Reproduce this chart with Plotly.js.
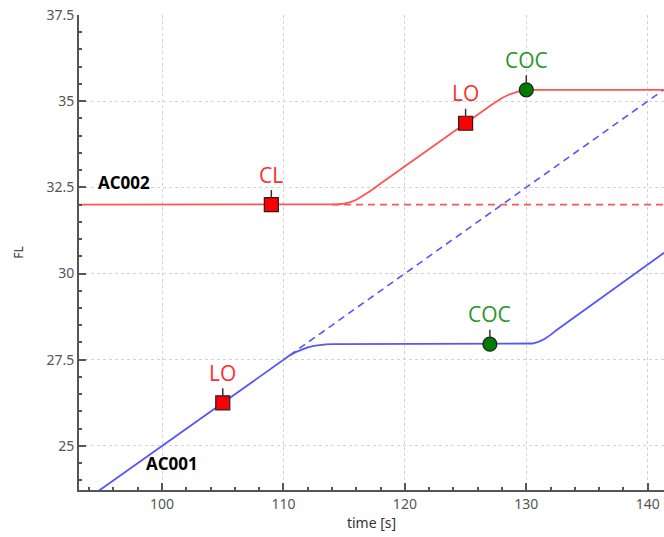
<!DOCTYPE html>
<html>
<head>
<meta charset="utf-8">
<script src="https://cdn.plot.ly/plotly-3.0.1.min.js"></script>
<style>html,body{margin:0;padding:0;background:#fff;}#chart{width:664px;height:537px;}</style>
</head>
<body>
<div id="chart"></div>
<script>
// AC001 (blue) solid trajectory
const ac001X = [94.0, 109, 109.5, 110, 110.5, 111, 111.5, 112, 112.5, 113, 113.5, 114, 130, 130.5, 131, 131.5, 132, 132.5, 141.34];
const ac001Y = [23.5, 27.25, 27.38, 27.5, 27.62, 27.72, 27.8, 27.86, 27.9, 27.93, 27.945, 27.95, 27.95, 27.97, 28.02, 28.1, 28.22, 28.36, 30.6];
// AC001 projected (dashed)
const ac001ProjX = [110.5, 141.34];
const ac001ProjY = [27.625, 35.335];
// AC002 (red) solid trajectory
const ac002X = [93.16, 114, 114.5, 115, 115.5, 116, 116.5, 117, 117.5, 118, 127, 127.5, 128, 128.5, 129, 129.5, 130, 141.34];
const ac002Y = [32.0, 32.0, 32.01, 32.03, 32.07, 32.14, 32.24, 32.36, 32.48, 32.61, 34.86, 34.98, 35.09, 35.18, 35.25, 35.3, 35.33, 35.33];
// AC002 projected (dashed)
const ac002ProjX = [114, 141.34];
const ac002ProjY = [32.0, 32.0];
// event markers
const squareX = [105, 109, 125];
const squareY = [26.25, 32.0, 34.36];
const squareLabels = ['LO', 'CL', 'LO'];
const circleX = [127, 130];
const circleY = [27.95, 35.33];
const circleLabels = ['COC', 'COC'];
// aircraft labels
const acNames = ['AC002', 'AC001'];
const acNameX = [94.6, 98.5];
const acNameY = [32.65, 24.5];

const red = 'rgb(255,85,85)';
const blue = 'rgb(85,85,255)';

const traces = [
  {x: ac001X, y: ac001Y, mode: 'lines', line: {color: blue, width: 1.8}, hoverinfo: 'skip'},
  {x: ac001ProjX, y: ac001ProjY, mode: 'lines', line: {color: blue, width: 1.6, dash: '7px,5px'}, hoverinfo: 'skip'},
  {x: ac002X, y: ac002Y, mode: 'lines', line: {color: red, width: 1.8}, hoverinfo: 'skip'},
  {x: ac002ProjX, y: ac002ProjY, mode: 'lines', line: {color: red, width: 1.6, dash: '7px,5px'}, hoverinfo: 'skip'},
  {x: squareX, y: squareY, mode: 'markers', marker: {symbol: 'square', size: 14, color: 'rgb(255,0,0)', line: {color: '#222', width: 1.2}}, cliponaxis: false},
  {x: circleX, y: circleY, mode: 'markers', marker: {symbol: 'circle', size: 14, color: 'rgb(0,125,0)', line: {color: '#222', width: 1.2}}, cliponaxis: false}
];

const annotations = [];
squareX.forEach((x, i) => annotations.push({
  x: x, y: squareY[i], xref: 'x', yref: 'y', text: squareLabels[i],
  showarrow: true, arrowhead: 0, arrowwidth: 1.5, arrowcolor: '#333', ax: 0, ay: -30, standoff: 7,
  font: {family: 'Open Sans, sans-serif', size: 21, color: 'rgb(255,45,45)'}
}));
circleX.forEach((x, i) => annotations.push({
  x: x, y: circleY[i], xref: 'x', yref: 'y', text: circleLabels[i],
  showarrow: true, arrowhead: 0, arrowwidth: 1.5, arrowcolor: '#333', ax: 0, ay: -30, standoff: 7,
  font: {family: 'Open Sans, sans-serif', size: 21, color: 'rgb(40,150,40)'}
}));
acNames.forEach((n, i) => annotations.push({
  x: acNameX[i], y: acNameY[i], xref: 'x', yref: 'y', text: '<b>' + n + '</b>',
  showarrow: false, xanchor: 'left', yanchor: 'middle',
  font: {family: 'Open Sans, sans-serif', size: 17, color: '#000'}
}));

const axisCommon = {
  showline: true, linecolor: '#555', linewidth: 2, mirror: false,
  ticks: 'inside', ticklen: 7, tickwidth: 2, tickcolor: '#555',
  showgrid: true, gridcolor: '#d2d2d2', gridwidth: 1, griddash: 'dot',
  zeroline: false,
  tickfont: {family: 'Noto Sans, sans-serif', size: 14, color: '#555'}
};

const layout = {
  width: 664, height: 537,
  margin: {l: 79, r: 0, t: 15, b: 47},
  paper_bgcolor: '#fff', plot_bgcolor: '#fff',
  showlegend: false,
  xaxis: Object.assign({}, axisCommon, {
    range: [93.16, 141.34], dtick: 10, tick0: 0,
    minor: {ticks: 'inside', ticklen: 3, tickwidth: 2, tickcolor: '#555', dtick: 2, showgrid: false},
    title: {text: 'time [s]', standoff: 4, font: {family: 'Noto Sans, sans-serif', size: 14, color: '#333'}}
  }),
  yaxis: Object.assign({}, axisCommon, {
    range: [23.72, 37.5], dtick: 2.5, tick0: 0,
    minor: {ticks: 'inside', ticklen: 3, tickwidth: 2, tickcolor: '#555', dtick: 0.5, showgrid: false},
    title: {text: 'FL', standoff: 20, font: {family: 'Noto Sans, sans-serif', size: 12, color: '#333'}}
  }),
  annotations: annotations
};

Plotly.newPlot('chart', traces, layout, {displayModeBar: false, staticPlot: true});
</script>
</body>
</html>
